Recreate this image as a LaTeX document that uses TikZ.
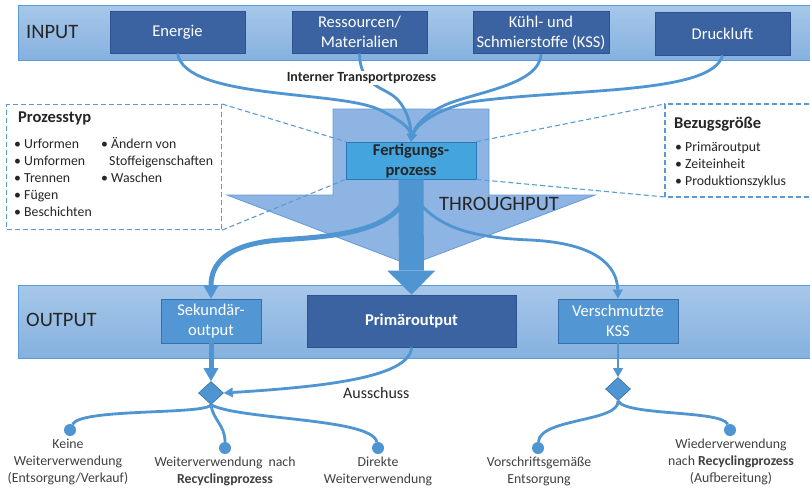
\documentclass[tikz,border=0pt]{standalone}
\usepackage{fontspec}
\setmainfont{Carlito}
\usetikzlibrary{arrows.meta,shapes.geometric}
\definecolor{barborder}{RGB}{91,155,213}
\definecolor{bartop}{RGB}{166,199,233}
\definecolor{barbot}{RGB}{133,177,223}
\definecolor{darkbox}{RGB}{59,98,161}
\definecolor{darkboxborder}{RGB}{47,82,143}
\definecolor{fertfill}{RGB}{68,164,221}
\definecolor{fertborder}{RGB}{46,117,182}
\definecolor{medbox}{RGB}{82,151,211}
\definecolor{medborder}{RGB}{56,110,170}
\definecolor{flowc}{RGB}{79,149,210}
\definecolor{tpfill}{RGB}{141,180,226}
\definecolor{tpborder}{RGB}{100,155,215}
\definecolor{txt}{RGB}{38,38,38}
\definecolor{lbl}{RGB}{64,64,64}
\newcommand{\fsbox}{\fontsize{16.5}{20}\selectfont}
\newcommand{\fsbig}{\fontsize{20.5}{24}\selectfont}
\newcommand{\fssmall}{\fontsize{13.8}{17}\selectfont}
\newcommand{\fshead}{\fontsize{16.5}{20}\selectfont\bfseries}
\begin{document}
\begin{tikzpicture}[x=1pt,y=-1pt,
  bar/.style={draw=barborder,line width=1pt,top color=bartop,bottom color=barbot,inner sep=0pt,anchor=north west},
  darkbox/.style={draw=darkboxborder,line width=0.8pt,fill=darkbox,text=white,align=center,inner sep=0pt,font=\fsbox},
  medbox/.style={draw=medborder,line width=0.8pt,fill=medbox,text=white,align=center,inner sep=0pt,font=\fsbox},
  barlabel/.style={text=txt,font=\fsbig,anchor=west,inner sep=0pt},
  flow/.style={draw=flowc,line width=2.8pt},
  smalltip/.style={-{Triangle[length=8pt,width=8pt,line width=0pt]}},
  midtip/.style={-{Triangle[length=9pt,width=10pt,line width=0pt]}},
  bigtip/.style={-{Triangle[length=13pt,width=15pt,line width=0pt]}},
  dashline/.style={draw=barborder,line width=1.1pt,dash pattern=on 5pt off 3pt},
  dashbox/.style={dashline,inner sep=0pt,anchor=north west},
  listitem/.style={text=txt,font=\fssmall,anchor=base west,inner sep=0pt},
  listhead/.style={text=txt,font=\fshead,anchor=base west,inner sep=0pt},
  dot/.style={circle,fill=flowc,minimum size=12pt,inner sep=0pt},
  decision/.style={diamond,draw=medborder,line width=0.6pt,fill=flowc,minimum width=25pt,minimum height=23pt,inner sep=0pt},
  endlabel/.style={text=lbl,font=\fssmall,align=center,inner sep=0pt},
]
\path[use as bounding box,fill=white] (0,0) rectangle (810,488);

% INPUT bar
\node[bar,minimum width=793pt,minimum height=55pt] (inbar) at (18,5) {};
\node[barlabel] (inlabel) at (26,32) {INPUT};
\node[darkbox,minimum width=135pt,minimum height=42pt] (energie) at (177.5,32) {Energie};
\node[darkbox,minimum width=135pt,minimum height=42pt] (res) at (359.5,32) {Ressourcen/\\Materialien};
\node[darkbox,minimum width=136pt,minimum height=42pt] (kss) at (541,32.5) {Kühl- und\\Schmierstoffe (KSS)};
\node[darkbox,minimum width=135pt,minimum height=43pt] (druck) at (722.5,33.5) {Druckluft};

% THROUGHPUT block arrow
\path[fill=tpfill,draw=tpborder,line width=0.8pt] (333,109) -- (489,109) -- (489,195) -- (595,195) -- (410,265) -- (227,195) -- (333,195) -- cycle;
\node[text=txt,font=\fsbig,inner sep=0pt] (tp) at (499,204) {THROUGHPUT};

% dashed boxes
\node[dashbox,minimum width=215pt,minimum height=125pt] (ptbox) at (6,104) {};
\coordinate (bznw) at (665,104);
\coordinate (bzsw) at (665,197);
\coordinate (bzne) at (809,104);
\coordinate (bzse) at (809,197);
\draw[dashline] (bzne) -- (bznw) -- (bzsw) -- (bzse);

% Fertigungsprozess
\node[draw=fertborder,line width=0.8pt,fill=fertfill,text=txt,font=\fshead,align=center,minimum width=130pt,minimum height=37pt,inner sep=0pt] (fert) at (411,160.5) {Fertigungs-\\prozess};
\draw[dashline] (ptbox.north east) -- (fert.north west);
\draw[dashline] (ptbox.south east) -- (fert.south west);
\draw[dashline] (fert.north east) -- (bznw);
\draw[dashline] (fert.south east) -- (bzsw);

% Prozesstyp list
\node[listhead] (pth) at (18,122.7) {Prozesstyp};
\node[listitem] (p1) at (14,148) {• Urformen};
\node[listitem] (p2) at (14,165) {• Umformen};
\node[listitem] (p3) at (14,182) {• Trennen};
\node[listitem] (p4) at (14,199) {• Fügen};
\node[listitem] (p5) at (14,216) {• Beschichten};
\node[listitem] (p6) at (101,148) {• Ändern von};
\node[listitem] (p7) at (109,165) {Stoffeigenschaften};
\node[listitem] (p8) at (101,182) {• Waschen};

% Bezugsgroesse list
\node[listhead] (bzh) at (674,128) {Bezugsgröße};
\node[listitem] (b1) at (675,151) {• Primäroutput};
\node[listitem] (b2) at (675,168) {• Zeiteinheit};
\node[listitem] (b3) at (675,185) {• Produktionszyklus};

% input flows
\draw[flow,smalltip] (energie.south) .. controls (185,100) and (340,90) .. (380,110) .. controls (400,120) and (410,128) .. (fert.north);
\draw[flow,smalltip] (res.south) .. controls (360,88) and (385,86) .. (398,100) .. controls (407,110) and (411,125) .. (fert.north);
\draw[flow,smalltip] (kss.south) .. controls (540,85) and (475,92) .. (445,105) .. controls (425,114) and (414,128) .. (fert.north);
\draw[flow,smalltip] (druck.south) .. controls (712,95) and (570,88) .. (470,102) .. controls (435,110) and (416,125) .. (fert.north);
\node[fill=white,text=txt,font=\fontsize{14}{17}\selectfont\bfseries,inner sep=1.5pt] (itp) at (361.5,78) {Interner Transportprozess};

% OUTPUT bar
\node[bar,minimum width=793pt,minimum height=73pt] (outbar) at (18,285) {};
\node[barlabel] (outlabel) at (26,320) {OUTPUT};
\node[medbox,minimum width=100pt,minimum height=44pt] (sek) at (211,321) {Sekundär-\\output};
\node[darkbox,font=\fsbox\bfseries,minimum width=209pt,minimum height=52pt] (prim) at (411.5,321) {Primäroutput};
\node[medbox,minimum width=120pt,minimum height=44pt] (vkss) at (618,321) {Verschmutzte\\KSS};

% main throughput flow
\draw[draw=flowc,line width=25pt,-{Triangle[length=24pt,width=48pt,line width=0pt]}] (fert.south) -- (prim.north);
\coordinate (ls) at (404,201);
\coordinate (rs) at (418,201);
\draw[draw=flowc,line width=5pt,bigtip] (ls) .. controls (385,235) and (320,237) .. (280,240) .. controls (225,244) and (211,265) .. (sek.north);
\draw[flow,midtip] (rs) .. controls (440,230) and (480,238) .. (530,240) .. controls (595,243) and (617,265) .. (vkss.north);

% decisions
\node[decision] (d1) at (211,393) {};
\node[decision] (d2) at (618,389) {};
\draw[draw=flowc,line width=5pt,bigtip] (sek.south) -- (d1.north);
\draw[flow,midtip] (vkss.south) -- (d2.north);
\draw[flow,midtip] (prim.south) .. controls (410,378) and (320,387) .. (d1.east);
\node[text=txt,font=\fontsize{16}{19}\selectfont,anchor=west,inner sep=0pt] (aus) at (343,393) {Ausschuss};

% end branches
\node[dot] (k1) at (70,430) {};
\node[dot] (k2) at (225,448) {};
\node[dot] (k3) at (378,448) {};
\node[dot] (k4) at (538,448) {};
\node[dot] (k5) at (730,430) {};
\draw[flow] (d1.south) .. controls (205,415) and (80,408) .. (k1);
\draw[flow] (d1.south) .. controls (213,420) and (225,425) .. (k2);
\draw[flow] (d1.south) .. controls (240,420) and (372,418) .. (k3);
\draw[flow] (d2.south) .. controls (620,422) and (540,418) .. (k4);
\draw[flow] (d2.south) .. controls (625,416) and (722,410) .. (k5);

\node[endlabel] (l1) at (68,462) {Keine\\Weiterverwendung\\(Entsorgung/Verkauf)};
\node[endlabel] (l2) at (225,471) {Weiterverwendung\hspace{6pt}nach\\\textbf{Recyclingprozess}};
\node[endlabel] (l3) at (378,471) {Direkte\\Weiterverwendung};
\node[endlabel] (l4) at (539,471) {Vorschriftsgemäße\\Entsorgung};
\node[endlabel] (l5) at (731,462) {Wiederverwendung\\nach \textbf{Recyclingprozess}\\(Aufbereitung)};
\end{tikzpicture}
\end{document}
